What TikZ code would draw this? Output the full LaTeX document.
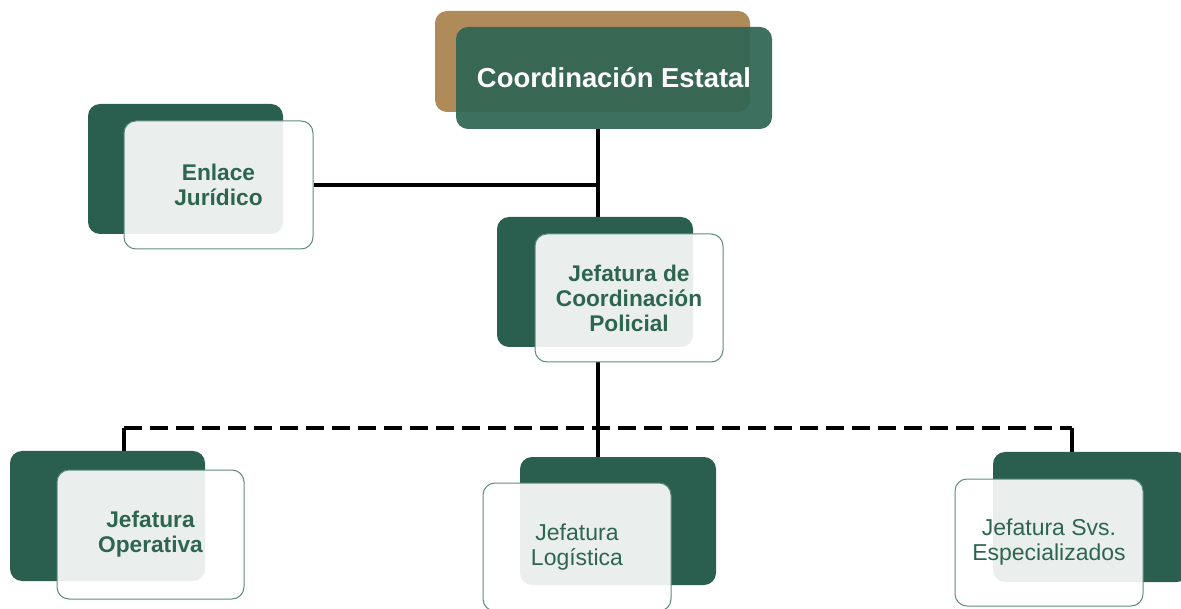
\documentclass[tikz,border=0pt]{standalone}
\usepackage{fontspec}
\setmainfont{Liberation Sans}
\usetikzlibrary{backgrounds}
\definecolor{dkgreen}{HTML}{2A5E4E}
\definecolor{topgreen}{HTML}{2E6453}
\definecolor{tanbrown}{HTML}{B08B5A}
\definecolor{edgegreen}{HTML}{5E8C7C}
\definecolor{txtgreen}{HTML}{2E6550}
\tikzset{
  backbox/.style={fill=dkgreen, rounded corners=12pt, minimum width=196pt, minimum height=130pt, inner sep=0pt},
  frontbox/.style={fill=white, fill opacity=0.9, text opacity=1, draw=edgegreen, line width=1pt,
    rounded corners=12pt, minimum width=188pt, minimum height=128pt, align=center, inner sep=0pt,
    font=\fontsize{23}{25}\selectfont, text=txtgreen},
  boldtext/.style={font=\fontsize{22.7}{25}\selectfont\bfseries},
  tanbox/.style={fill=tanbrown, rounded corners=12pt, minimum width=315pt, minimum height=101pt, inner sep=0pt},
  topbox/.style={fill=topgreen, fill opacity=0.92, text opacity=1, rounded corners=12pt, minimum width=316pt,
    minimum height=102pt, inner sep=0pt, text=white, font=\fontsize{27.4}{30}\selectfont\bfseries},
  conn/.style={line width=3.2pt, draw=black},
  dashconn/.style={conn, dash pattern=on 18pt off 8pt},
}
\begin{document}
\begin{tikzpicture}[x=1pt,y=-1pt]
\useasboundingbox (0,0) rectangle (1181,609);
% top
\node[tanbox] (tan) at (592.5,61.5) {};
\node[topbox] (top) at (614,78) {Coordinación Estatal};
% Enlace Juridico
\node[backbox, minimum width=195pt] (ejb) at (185.5,169) {};
\node[frontbox, boldtext, minimum width=189pt] (ejf) at (218.5,185) {Enlace\\Jurídico};
% Jefatura de Coordinacion Policial
\node[backbox] (jcpb) at (595,282) {};
\node[frontbox, boldtext] (jcpf) at (629,298) {Jefatura de\\Coordinación\\Policial};
% Jefatura Operativa
\node[backbox, minimum width=195pt] (job) at (107.5,516) {};
\node[frontbox, boldtext, minimum width=187pt, minimum height=129pt] (jof) at (150.5,534.5) {Jefatura\\Operativa};
% Jefatura Logistica
\node[backbox, minimum height=128pt] (jlb) at (618,521) {};
\node[frontbox] (jlf) at (577,547) {Jefatura\\Logística};
% Jefatura Svs. Especializados
\node[backbox] (jsb) at (1091,517) {};
\node[frontbox, minimum height=127pt] (jsf) at (1049,542.5) {Jefatura Svs.\\Especializados};
% connectors
\coordinate (spine) at (598,0);
\coordinate (busL) at (124,428);
\coordinate (busR) at (1072,428);
\begin{scope}[on background layer]
\draw[conn] (top.south -| spine) -- (jcpb.north -| spine);
\draw[conn] (ejf.east) -- (ejf.east -| spine);
\draw[conn] (jcpf.south -| spine) -- (jlb.north -| spine);
\draw[dashconn] (busL) -- (busR);
\draw[conn] (busL) -- (job.north -| busL);
\draw[conn] (busR) -- (jsb.north -| busR);
\end{scope}
\end{tikzpicture}
\end{document}
